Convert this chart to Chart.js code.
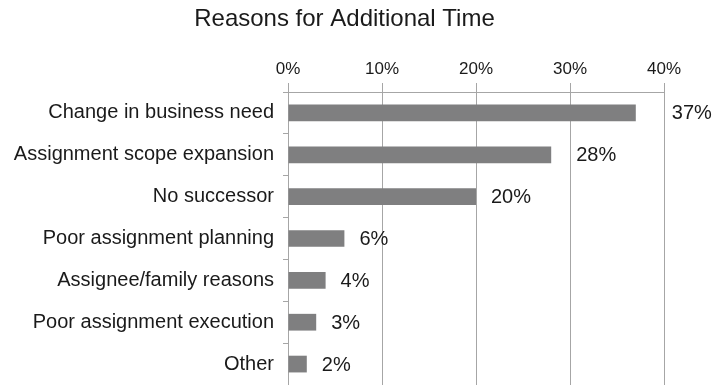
<!DOCTYPE html>
<html>
<head>
<meta charset="utf-8">
<script src="https://cdn.jsdelivr.net/npm/chart.js@4/dist/chart.umd.min.js"></script>
<style>
  html, body { margin: 0; padding: 0; background: #fff; }
  #wrap { width: 715px; height: 385px; }
</style>
</head>
<body>
<div id="wrap"><canvas id="reasonsChart" width="715" height="385"></canvas></div>
<script>
const categories = [
  'Change in business need',
  'Assignment scope expansion',
  'No successor',
  'Poor assignment planning',
  'Assignee/family reasons',
  'Poor assignment execution',
  'Other'
];
const shares = [37, 28, 20, 6, 4, 3, 2];
const tickValues = [0, 10, 20, 30, 40];

const FONT = "'Liberation Sans', Arial, Helvetica, sans-serif";
const TEXT = '#1a1a1a';
const GRID = '#a6a6a6';

// value labels to the right of each bar
const barLabels = {
  id: 'barLabels',
  afterDatasetsDraw(chart, args, opts) {
    const ctx = chart.ctx;
    const meta = chart.getDatasetMeta(0);
    ctx.save();
    ctx.font = opts.size + 'px ' + FONT;
    ctx.fillStyle = TEXT;
    ctx.textAlign = 'left';
    ctx.textBaseline = 'middle';
    meta.data.forEach((bar, i) => {
      const nudge = opts.nudge[i] || 0;
      ctx.fillText(shares[i] + '%', bar.x + opts.offset + nudge, bar.y + 1);
    });
    ctx.restore();
  }
};

const ctx = document.getElementById('reasonsChart');
ctx.chart = new Chart(ctx, {
  type: 'bar',
  data: {
    labels: categories,
    datasets: [{
      data: shares,
      backgroundColor: '#7f7f80',
      borderWidth: 0,
      barPercentage: 0.4,
      categoryPercentage: 1
    }]
  },
  options: {
    indexAxis: 'y',
    responsive: false,
    animation: false,
    // left padding only shifts the title centre; y labels may spill into it
    layout: { padding: { left: 25, right: 51, top: 0, bottom: 0 } },
    plugins: {
      legend: { display: false },
      tooltip: { enabled: false },
      title: {
        display: true,
        text: 'Reasons for Additional Time',
        color: TEXT,
        font: { family: FONT, size: 24, weight: 'normal', lineHeight: 1 },
        padding: { top: 7, bottom: 0 }
      },
      barLabels: { size: 20, offset: 15, nudge: [21, 10, 0, 0, 0, 0, 0] }
    },
    scales: {
      x: {
        position: 'top',
        min: 0,
        max: 40,
        afterFit(scale) {
          scale.height = 61;
          scale.paddingLeft = 0;
          scale.paddingRight = 0;
        },
        afterBuildTicks(scale) { scale.ticks = tickValues.map(v => ({ value: v })); },
        ticks: {
          color: TEXT,
          padding: 3,
          maxRotation: 0,
          font: { family: FONT, size: 17 },
          callback: v => v + '%'
        },
        grid: { color: GRID, lineWidth: 1, tickLength: 9, drawTicks: true },
        border: { color: GRID, width: 1 }
      },
      y: {
        afterFit(scale) {
          scale.width = 263;
          scale.paddingTop = 0;
          scale.paddingBottom = 0;
          // don't clip long category labels at the scale's left edge
          scale._computeLabelArea = () => undefined;
        },
        ticks: {
          color: TEXT,
          padding: 9,
          font: { family: FONT, size: 20 }
        },
        grid: { drawOnChartArea: false, color: GRID, tickLength: 5, offset: true },
        border: { color: GRID, width: 1 }
      }
    }
  },
  plugins: [barLabels]
});
</script>
</body>
</html>
